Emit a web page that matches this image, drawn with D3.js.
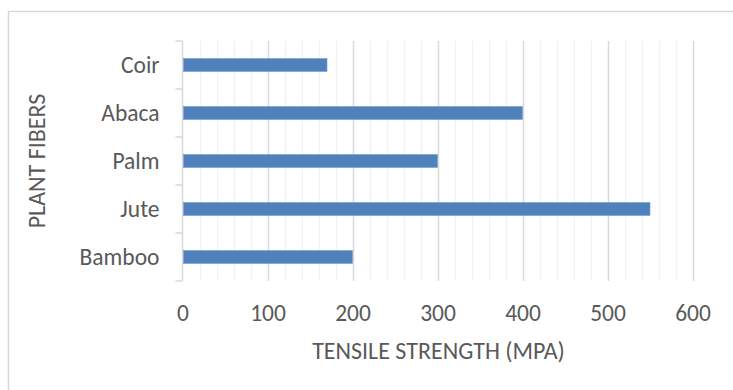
<!DOCTYPE html>
<html>
<head>
<meta charset="utf-8">
<script src="https://cdn.jsdelivr.net/npm/d3@7"></script>
<style>
  html, body { margin: 0; padding: 0; background: #fff; }
  svg { display: block; }
  text { font-family: Carlito, Calibri, Lato, "Open Sans", sans-serif; fill: #595959; }
</style>
</head>
<body>
<script>
// Tensile strength of plant fibers (MPa)
const categories = ["Bamboo", "Jute", "Palm", "Abaca", "Coir"];
const strength = [200, 550, 300, 400, 170];
const xTicks = [0, 100, 200, 300, 400, 500, 600];
const xTitle = "TENSILE STRENGTH (MPA)";
const yTitle = "PLANT FIBERS";

const W = 733, H = 390;
const plot = { left: 182.5, right: 692.5, top: 41, bottom: 281 };

const svg = d3.select("body").append("svg").attr("width", W).attr("height", H);

// chart frame
svg.append("rect")
  .attr("x", 8.5).attr("y", 11.5)
  .attr("width", W).attr("height", H)
  .attr("fill", "none").attr("stroke", "#d9d9d9").attr("stroke-width", 1.5);

const x = d3.scaleLinear().domain([0, 600]).range([plot.left, plot.right]);
const y = d3.scaleBand().domain(categories.slice().reverse())
  .range([plot.top, plot.bottom]).paddingInner(0.73).paddingOuter(0.365);
const yBands = d3.scaleBand().domain(categories.slice().reverse())
  .range([plot.top, plot.bottom]);

// minor gridlines every 20
const minor = d3.range(20, 601, 20).filter(v => v % 100 !== 0);
svg.append("g").selectAll("line").data(minor).join("line")
  .attr("x1", d => Math.round(x(d)) + 0.5).attr("x2", d => Math.round(x(d)) + 0.5)
  .attr("y1", plot.top).attr("y2", plot.bottom)
  .attr("stroke", "#f2f2f2").attr("stroke-width", 1.3);

// major gridlines
svg.append("g").selectAll("line").data(xTicks.slice(1)).join("line")
  .attr("x1", d => Math.round(x(d)) + 0.5).attr("x2", d => Math.round(x(d)) + 0.5)
  .attr("y1", plot.top).attr("y2", plot.bottom)
  .attr("stroke", "#d9d9d9").attr("stroke-width", 1.5);

// y axis line and category tick marks
const ya = svg.append("g");
ya.append("line")
  .attr("x1", plot.left).attr("x2", plot.left)
  .attr("y1", plot.top).attr("y2", plot.bottom)
  .attr("stroke", "#d9d9d9").attr("stroke-width", 1.5);
const bounds = categories.map((c, i) => plot.top + i * yBands.step()).concat([plot.bottom]);
ya.selectAll("line.tk").data(bounds).join("line").attr("class", "tk")
  .attr("x1", plot.left - 7).attr("x2", plot.left)
  .attr("y1", d => d).attr("y2", d => d)
  .attr("stroke", "#d9d9d9").attr("stroke-width", 1.5);

// bars
svg.append("g").selectAll("rect").data(categories).join("rect")
  .attr("x", x(0) + 1)
  .attr("y", d => y(d))
  .attr("width", (d, i) => x(strength[i]) - x(0) - 1)
  .attr("height", y.bandwidth())
  .attr("fill", "#4f81bd")
  .attr("stroke", "#7399cb").attr("stroke-width", 0.6);

// category labels
svg.append("g").selectAll("text").data(categories).join("text")
  .attr("x", plot.left - 23)
  .attr("y", d => yBands(d) + yBands.bandwidth() / 2)
  .attr("dy", "0.35em")
  .attr("text-anchor", "end")
  .attr("font-size", 23.5)
  .text(d => d);

// value tick labels
const xAxis = d3.axisBottom(x).tickValues(xTicks).tickSize(0).tickPadding(0);
const xa = svg.append("g").attr("transform", `translate(0,${plot.bottom})`).call(xAxis);
xa.select(".domain").remove();
xa.attr("font-family", null).attr("font-size", null);
xa.selectAll("text")
  .attr("y", 40).attr("dy", "0")
  .attr("font-size", 23.5);

// axis titles
svg.append("text")
  .attr("x", (plot.left + plot.right) / 2 + 1)
  .attr("y", 359)
  .attr("text-anchor", "middle")
  .attr("font-size", 24)
  .text(xTitle);

svg.append("text")
  .attr("transform", `translate(45,${(plot.top + plot.bottom) / 2}) rotate(-90)`)
  .attr("text-anchor", "middle")
  .attr("font-size", 24)
  .text(yTitle);
</script>
</body>
</html>
